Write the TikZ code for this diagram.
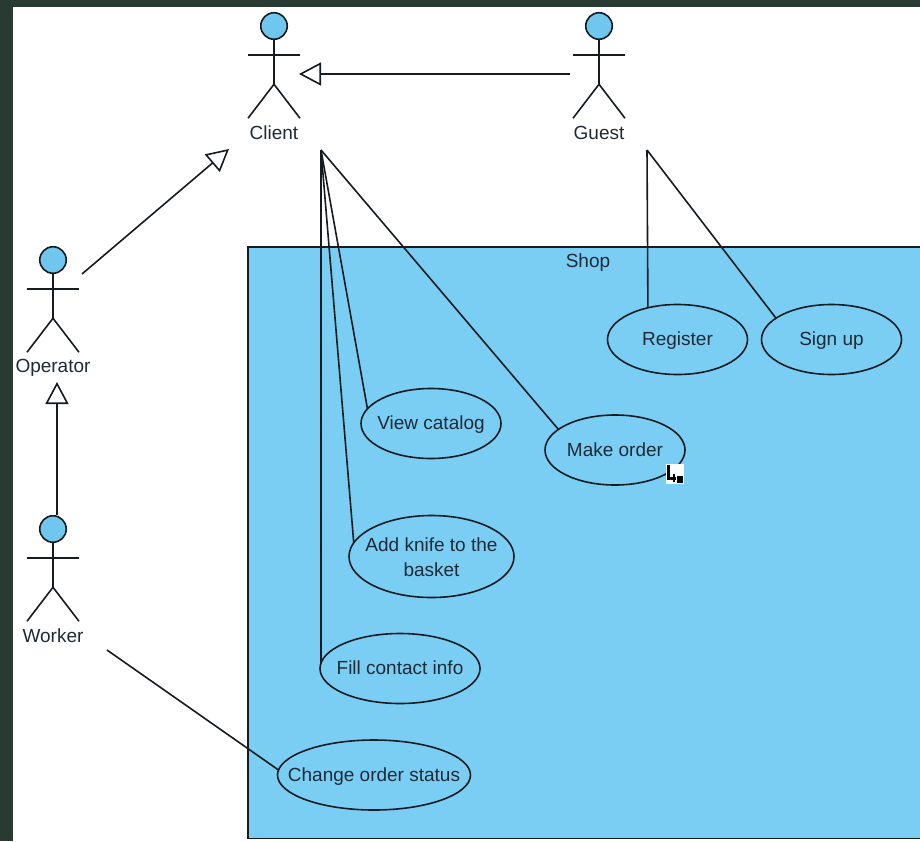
\documentclass[tikz,border=0pt]{standalone}
\usepackage{fontspec}
\setmainfont{Liberation Sans}
\usetikzlibrary{shapes.geometric,arrows.meta}
\definecolor{frameC}{HTML}{283A32}
\definecolor{shopC}{HTML}{7ACEF4}
\definecolor{headC}{HTML}{6FC6EE}
\definecolor{lineC}{HTML}{161B20}
\definecolor{textC}{HTML}{1E2A35}
\tikzset{
  lnk/.style={draw=lineC,line width=1.6pt},
  gen/.style={lnk,-{Triangle[open,fill=white,length=22pt,width=23pt,line width=1.6pt]}},
  uc/.style={ellipse,draw=lineC,line width=1.6pt,inner sep=0pt,outer sep=0pt},
  uctext/.style={inner sep=0pt,text=textC,font=\fontsize{19}{25}\selectfont,align=center,yshift=-1.5pt},
  lbl/.style={inner sep=0pt,text=textC,font=\fontsize{19}{22}\selectfont,yshift=-2pt},
  headS/.style={circle,draw=lineC,line width=1.6pt,fill=headC,minimum size=26.5pt,inner sep=0pt,outer sep=0pt}
}
\newcommand{\actorfig}[5]{% name, x, head y, label, label y
  \node[headS] (#1) at (#2,#3) {};
  \draw[lnk] (#1.south) -- ++(0,-45pt) coordinate (#1hip);
  \draw[lnk] ([xshift=-26pt,yshift=-29pt]#1.center) -- ([xshift=26pt,yshift=-29pt]#1.center);
  \draw[lnk] ([xshift=-26pt,yshift=-34pt]#1hip) -- (#1hip) -- ([xshift=26pt,yshift=-34pt]#1hip);
  \node[lbl] (#1label) at (#2,#5) {\vphantom{Ag}#4};
}
\newcommand{\usecasefig}[7][0]{% text drop, name, x, y, width, height, text
  \node[uc,minimum width=#5pt,minimum height=#6pt] (#2) at (#3,#4) {};
  \node[uctext,yshift=-#1pt] (#2text) at (#2.center) {\vphantom{Ag}#7\vphantom{Ag}};
}
\begin{document}
\begin{tikzpicture}[x=1pt,y=-1pt]
\useasboundingbox (0,0) rectangle (920,841);
\fill[frameC] (0,0) rectangle (920,841);
\fill[white] (13,7) rectangle (920,841);
\fill[shopC] (248,247) rectangle (921,838.5);
\draw[draw=lineC,line width=1.1pt] (921,247) -- (248,247) -- (248,838.5) -- (921,838.5);
\node[lbl] (shop) at (588,261) {\vphantom{Ag}Shop};

\actorfig{client}{274}{26}{Client}{133}
\actorfig{guest}{599}{26}{Guest}{133}
\actorfig{operator}{53}{260}{Operator}{366}
\actorfig{worker}{53}{529}{Worker}{636}

\usecasefig{register}{677.5}{339.5}{140}{70}{Register}
\usecasefig{signup}{831.5}{339.5}{140}{70}{Sign up}
\usecasefig{catalog}{431}{423.5}{140}{70}{View catalog}
\usecasefig{order}{615}{450}{140}{70}{Make order}
\usecasefig[1.5]{basket}{431.5}{556.5}{165}{82}{Add knife to the\\basket}
\usecasefig{contact}{400}{668.5}{160}{70}{Fill contact info}
\usecasefig{status}{374}{775}{193}{70}{Change order status}

\coordinate (clientEnd) at (321,150);
\coordinate (guestEnd) at (647,150);
\coordinate (workerEnd) at (107,650);
\coordinate (guestGen) at (570,74);
\coordinate (clientTipA) at (299,74);
\coordinate (opGen) at (82,274);
\coordinate (clientTipB) at (229,149);
\coordinate (workerGen) at (57,515);
\coordinate (opTip) at (57,382);

\draw[gen] (guestGen) -- (clientTipA);
\draw[gen] (opGen) -- (clientTipB);
\draw[gen] (workerGen) -- (opTip);

\draw[lnk] (clientEnd) -- (catalog.167);
\draw[lnk] (clientEnd) -- (basket.170.4);
\draw[lnk] (clientEnd) -- (contact.176);
\draw[lnk] (clientEnd) -- (order.160);
\draw[lnk] (guestEnd) -- (register.133);
\draw[lnk] (guestEnd) -- (signup.159);
\draw[lnk] (workerEnd) -- (status.177);

% cursor mark on the Make order ellipse
\fill[white] (666,464) rectangle (684,484);
\fill[black] (667,465) rectangle (669.5,479);
\fill[black] (667,477) rectangle (676,479.5);
\fill[black] (672.5,474) rectangle (675,482);
\fill[black] (677,476) rectangle (683,482.5);
\end{tikzpicture}
\end{document}
